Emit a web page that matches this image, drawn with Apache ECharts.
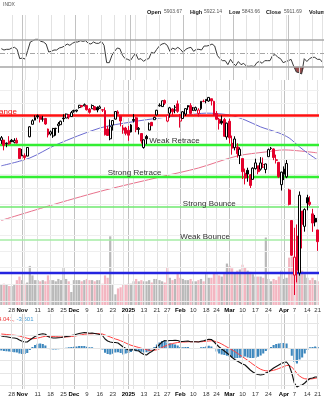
<!DOCTYPE html>
<html>
<head>
<meta charset="utf-8">
<title>INDX daily</title>
<script src="https://cdn.jsdelivr.net/npm/echarts@6/dist/echarts.min.js"></script>
<style>
  html, body { margin: 0; padding: 0; background: #ffffff; }
  #chart { width: 324px; height: 400px; }
</style>
</head>
<body>
<div id="chart"></div>
<script>
// Trading days shown on the chart
const dates = [
  'Oct 22','Oct 23','Oct 24','Oct 25','Oct 28','Oct 29','Oct 30','Oct 31',
  'Nov 1','Nov 4','Nov 5','Nov 6','Nov 7','Nov 8','Nov 11','Nov 12','Nov 13','Nov 14','Nov 15','Nov 18','Nov 19','Nov 20','Nov 21','Nov 22','Nov 25','Nov 26','Nov 27','Nov 29',
  'Dec 2','Dec 3','Dec 4','Dec 5','Dec 6','Dec 9','Dec 10','Dec 11','Dec 12','Dec 13','Dec 16','Dec 17','Dec 18','Dec 19','Dec 20','Dec 23','Dec 24','Dec 26','Dec 27','Dec 30','Dec 31',
  'Jan 2','Jan 3','Jan 6','Jan 7','Jan 8','Jan 10','Jan 13','Jan 14','Jan 15','Jan 16','Jan 17','Jan 21','Jan 22','Jan 23','Jan 24','Jan 27','Jan 28','Jan 29','Jan 30','Jan 31',
  'Feb 3','Feb 4','Feb 5','Feb 6','Feb 7','Feb 10','Feb 11','Feb 12','Feb 13','Feb 14','Feb 18','Feb 19','Feb 20','Feb 21','Feb 24','Feb 25','Feb 26','Feb 27','Feb 28',
  'Mar 3','Mar 4','Mar 5','Mar 6','Mar 7','Mar 10','Mar 11','Mar 12','Mar 13','Mar 14','Mar 17','Mar 18','Mar 19','Mar 20','Mar 21','Mar 24','Mar 25','Mar 26','Mar 27','Mar 28','Mar 31',
  'Apr 1','Apr 2','Apr 3','Apr 4','Apr 7','Apr 8','Apr 9','Apr 10','Apr 11','Apr 14','Apr 15','Apr 16','Apr 17','Apr 21'
];

// Daily OHLC
const opens = [
  5832,5834,5813,5826,5833,5819,5833,5775,
  5723,5725,5722,5858,5947,5977,6009,6003,5985,5989,5913,5877,5863,5918,5937,5944,5992,5992,6015,6003,
  6041,6043,6069,6084,6081,6083,6057,6060,6075,6069,6063,6053,6047,5913,5843,5941,5984,6024,6006,5920,5920,
  5904,5892,5982,5994,5910,5881,5782,5859,5905,5961,5980,6015,6081,6076,6121,5970,6027,6058,6050,6096,
  5970,5989,6021,6073,6083,6049,6050,6026,6060,6115,6121,6117,6134,6115,6026,5983,5970,5981,5856,
  5969,5811,5781,5786,5726,5705,5604,5624,5594,5563,5636,5655,5632,5646,5630,5718,5775,5772,5696,5679,5527,
  5597,5580,5492,5292,4953,5194,4966,5353,5255,5441,5411,5335,5306,5232
];
const highs = [
  5863,5834,5817,5862,5842,5847,5850,5776,
  5772,5741,5784,5933,5983,6012,6018,6009,6008,5993,5916,5902,5921,5921,5963,5973,6020,6025,6021,6044,
  6053,6053,6087,6085,6099,6088,6065,6092,6080,6078,6085,6057,6070,5935,5982,5978,6040,6049,6006,5941,5929,
  5935,5949,6021,6001,5927,5881,5838,5871,5960,5964,6002,6052,6100,6119,6128,6018,6074,6063,6087,6121,
  6022,6042,6063,6085,6101,6073,6076,6064,6116,6128,6129,6147,6134,6119,6043,5993,6010,5993,5959,
  5987,5866,5861,5812,5783,5705,5636,5642,5598,5645,5704,5655,5715,5712,5670,5775,5786,5776,5732,5679,5615,
  5651,5695,5500,5293,5246,5267,5482,5353,5371,5460,5450,5368,5328,5233
];
const lows = [
  5807,5762,5784,5800,5823,5811,5811,5703,
  5723,5696,5721,5854,5946,5976,5987,5960,5966,5943,5853,5866,5850,5866,5886,5944,5964,5992,5984,6003,
  6031,6034,6061,6070,6079,6047,6024,6060,6051,6034,6059,6036,5867,5866,5833,5902,5981,6007,5932,5879,5868,
  5829,5888,5960,5890,5874,5809,5774,5805,5905,5935,5979,6011,6076,6074,6088,5962,5995,6013,6027,6030,
  5923,5985,6007,6052,6020,6044,6042,6003,6050,6108,6100,6111,6084,6008,5977,5909,5944,5858,5837,
  5810,5732,5762,5711,5667,5565,5529,5547,5505,5563,5629,5598,5622,5640,5604,5718,5765,5694,5671,5572,5488,
  5558,5571,5390,5070,4835,4910,4950,5116,5221,5358,5386,5220,5255,5101
];
const closes = [
  5851,5797,5809,5808,5823,5832,5813,5705,
  5729,5712,5782,5929,5973,5995,6001,5984,5985,5949,5870,5893,5917,5917,5949,5969,5987,6021,5999,6032,
  6047,6050,6086,6075,6090,6053,6034,6084,6051,6051,6074,6050,5872,5867,5930,5974,6040,6037,5971,5907,5882,
  5869,5942,5975,5909,5918,5827,5836,5843,5950,5937,5997,6049,6086,6119,6101,6012,6067,6039,6071,6041,
  5994,6038,6061,6084,6026,6066,6068,6051,6115,6114,6129,6144,6118,6013,5983,5955,5956,5861,5955,
  5850,5778,5842,5739,5770,5615,5572,5599,5522,5639,5675,5615,5675,5663,5668,5767,5777,5712,5693,5581,5612,
  5633,5671,5397,5074,5062,4982,5457,5268,5363,5406,5397,5276,5283,5158
];

// Daily volume, billions of shares
const volumes = [
  3.4,3.6,3.4,3.2,3.2,3.4,4.2,4.8,4.2,3.6,
  3.8,6.6,5.0,4.2,4.2,4.0,4.2,4.0,5.0,4.2,
  4.2,4.0,4.4,4.2,6.4,4.4,4.0,2.2,4.2,4.2,
  4.2,4.0,4.2,4.4,4.2,4.2,4.0,4.2,4.2,3.6,
  5.0,4.6,11.6,3.4,1.8,2.8,3.0,3.4,3.4,3.6,
  3.6,4.0,4.4,4.0,4.2,4.0,4.0,4.2,3.8,4.4,
  4.4,4.2,4.0,3.8,6.4,4.6,4.2,4.4,5.4,4.6,
  4.4,4.2,4.2,4.4,4.0,4.0,4.2,4.4,4.0,5.2,
  4.6,4.6,5.4,5.2,5.0,4.8,5.4,7.0,6.6,6.2,
  5.4,5.8,6.0,6.8,6.4,5.8,5.6,5.2,4.8,4.8,
  4.8,4.6,11.4,4.4,4.0,4.4,4.2,4.8,5.8,4.4,
  4.6,8.0,8.2,8.2,7.4,7.0,5.8,5.2,4.6,4.2,
  4.6,4.2,4.0
];

// RSI(14)
const rsi = [
  57,55,56,56,58,59,56,42,43,41.5,
  54,67,69,71,71,68,67,64,52,53,
  55,55,58,59,61,64,62,65,67,67,
  69,68,69,65,64,67,65,65,68,62,
  36,36,47,53,58,57,47,42,41,39,
  45,50,41,42,38,41,42,51.5,50,56,
  61,64,65,62,53,58,56,59,56,51.5,
  56,58,59,53,56,56,55,61,61,62,
  64,61,47,42,39,39,33,41,35,31.5,
  37.7,33,35,31,30.5,31,30.2,36,38,35,
  39,39,39,47,48,44,42,36,37.7,39,
  41,30.5,22,21,19,42,37.7,42,44,44,
  41,41,36
];

// MACD(12,26,9)
const macdLine = [
  48,46,45,43,41,40,38,32,27,24,
  24,32,39,46,52,55,57,55,46,42,
  40,40,41,42,44,46,47,50,52,55,
  58,60,62,61,59,60,58,56,54,50,
  36,28,24,22,22,20,12,4,-2,-8,
  -8,-6,-10,-12,-20,-26,-28,-20,-14,-6,
  4,14,24,30,28,30,30,31,30,26,
  26,27,28,25,25,25,24,27,29,32,
  35,34,25,14,4,-4,-12,-20,-28,-38,
  -46,-52,-58,-64,-68,-78,-88,-96,-102,-106,
  -108,-106,-100,-96,-88,-80,-74,-68,-62,-58,
  -56,-70,-100,-140,-156,-150,-148,-140,-130,-122,
  -120,-116,-116
];
const macdSignal = [
  56,55,54,53,52,51,50,48,45,42,
  39,37,37,38,40,42,45,47,47,47,
  46,45,45,44,44,44,45,46,47,49,
  51,53,55,56,57,57,58,58,57,56,
  52,48,44,40,36,33,29,25,20,15,
  11,8,5,2,-1,-4,-7,-9,-10,-9,
  -7,-3,2,7,11,15,18,20,22,23,
  24,24,25,25,25,25,25,25,26,27,
  28,29,28,25,21,16,10,4,-2,-8,
  -14,-21,-28,-35,-42,-49,-57,-65,-72,-79,
  -85,-89,-91,-92,-91,-89,-86,-82,-78,-74,
  -70,-70,-76,-88,-102,-112,-119,-123,-124,-124,
  -123,-121,-119
];
const macdHist = [
  -10,-12,-13,-14,-16,-17,-18,-22,-24,-24,
  -20,-8,4,12,17,18,16,10,-1,-5,
  -6,-6,-5,-3,0,1,3,4,5,6,
  8,8,8,5,3,3,0,-1,-3,-6,
  -19,-24,-26,-23,-18,-17,-20,-26,-22,-20,
  -16,-12,-13,-12,-15,-18,-17,-14,-5,4,
  14,22,28,29,22,19,16,14,10,4,
  3,4,4,0,0,0,-1,3,4,6,
  9,6,-4,-14,-22,-26,-28,-31,-34,-38,
  -41,-40,-39,-38,-34,-38,-40,-40,-39,-35,
  -30,-22,-12,-5,4,12,16,18,20,20,
  18,0,-31,-56,-62,-46,-38,-22,-8,3,
  4,6,4
];

// Moving averages, sampled
const sma50Dates = ['Oct 22','Nov 6','Nov 20','Dec 16','Jan 3','Jan 23','Feb 6','Feb 18','Mar 3','Mar 11','Mar 19','Mar 28','Apr 3','Apr 9','Apr 14','Apr 21'];
const sma50Values = [5655,5709,5800,5920,5963,5995,6014,6028,6014,5978,5928,5885,5849,5786,5744,5695];
const sma200Dates = ['Oct 22','Nov 20','Dec 18','Jan 23','Feb 12','Mar 6','Mar 21','Apr 1','Apr 21'];
const sma200Values = [5293,5400,5491,5582,5640,5723,5751,5765,5744];

// Support / resistance levels
const levelNames = ['Range','Weak Retrace','Strong Retrace','Strong Bounce','Weak Bounce',''];
const levelValues = [6014,5804,5583,5379,5168,4965];
const levelLabelDates = ['Oct 30','Jan 15','Dec 19','Feb 4','Feb 3',''];

// Time axis ticks
const tickDates = ['Oct 28','Nov 1','Nov 11','Nov 18','Nov 25','Dec 2','Dec 9','Dec 16','Dec 23','Jan 2','Jan 13','Jan 21','Jan 27','Feb 3','Feb 10','Feb 18','Feb 24','Mar 3','Mar 10','Mar 17','Mar 24','Apr 1','Apr 7','Apr 14','Apr 21'];
const tickLabels = ['28','Nov','11','18','25','Dec','9','16','23','2025','13','21','27','Feb','10','18','24','Mar','10','17','24','Apr','7','14','21'];
const monthStarts = ['Nov 1','Dec 2','Jan 2','Feb 3','Mar 3','Apr 1'];
const weekStarts = ['Oct 28','Nov 4','Nov 11','Nov 18','Nov 25','Dec 2','Dec 9','Dec 16','Dec 23','Dec 30','Jan 6','Jan 13','Jan 21','Jan 27','Feb 3','Feb 10','Feb 18','Feb 24','Mar 3','Mar 10','Mar 17','Mar 24','Mar 31','Apr 7','Apr 14','Apr 21'];

// Horizontal guides per panel
const priceGuides = [4800,4900,5000,5100,5200,5300,5400,5500,5600,5700,5800,5900,6000,6100,6200];
const macdGuides = [-150,-100,-50,0,50,100];
const rsiBands = [30,70];
const rsiMid = 50;

// Header values
const headerItems = [['Open','5903.67'],['High','5922.14'],['Low','5843.66'],['Close','5911.69']];
const macdReadout = ['4.041,', '-3.501'];

// ---------------------------------------------------------------
const FONT = '"Liberation Sans", Arial, sans-serif';
const chart = echarts.init(document.getElementById('chart'), null, { renderer: 'canvas' });

const UP = '#000000', DOWN = '#e4002b';
const candleData = dates.map((d, i) => {
  const prev = i ? closes[i - 1] : opens[i];
  const col = closes[i] >= prev ? UP : DOWN;
  const fill = closes[i] < opens[i] ? col : '#ffffff';
  return {
    value: [opens[i], closes[i], lows[i], highs[i]],
    itemStyle: { color: fill, color0: fill, borderColor: col, borderColor0: col, borderWidth: 1 }
  };
});
const volumeData = volumes.map((v, i) => {
  const prev = i ? closes[i - 1] : opens[i];
  return { value: v, itemStyle: { color: closes[i] >= prev ? '#b9b9b9' : '#f3b6c1' } };
});
const sparse = (ds, vs) => dates.map(d => { const k = ds.indexOf(d); return k >= 0 ? vs[k] : null; });
const rsiFloor = rsi.map(v => Math.min(v, 30));
const rsiDip = rsi.map(v => 30 - Math.min(v, 30));

const levelColors = ['#ff1010', '#33ee33', '#33ee33', '#6fe86f', '#a6eda6', '#2424e0'];
const levelWidths = [2.5, 2.3, 2.3, 1.6, 1.5, 2.3];

const vLines = () => [
  ...weekStarts.map(d => ({ xAxis: dates.indexOf(d), lineStyle: { color: '#e2e2e2', width: 1, type: 'solid' } })),
  ...monthStarts.map(d => ({ xAxis: dates.indexOf(d), lineStyle: { color: '#c2c2c2', width: 1, type: 'solid' } }))
];
const guideSeries = (xi, yi, extra) => ({
  type: 'line', xAxisIndex: xi, yAxisIndex: yi, data: [], z: 0, silent: true,
  markLine: {
    silent: true, animation: false, symbol: ['none', 'none'], label: { show: false },
    emphasis: { disabled: true },
    data: [...vLines(), ...extra]
  }
});

const xLayout = { left: -2.8, width: 329.3 };
const xAxisFor = (gi, showLabels) => ({
  type: 'category', gridIndex: gi, data: dates, boundaryGap: true,
  axisLine: { show: false }, axisTick: { show: false }, splitLine: { show: false },
  axisPointer: { show: false },
  axisLabel: showLabels ? {
    show: true,
    interval: (i, v) => tickDates.indexOf(v) >= 0,
    margin: 2.5, fontSize: 6, fontFamily: FONT, color: '#333',
    formatter: (v) => {
      const k = tickDates.indexOf(v);
      if (k < 0) return '';
      return monthStarts.indexOf(v) >= 0 ? '{m|' + tickLabels[k] + '}' : tickLabels[k];
    },
    rich: { m: { fontWeight: 'bold', color: '#000', fontSize: 6, fontFamily: FONT } }
  } : { show: false }
});

const headerGraphics = [];
const headerX = [[147, 164], [190, 204], [229, 242], [266, 284]];
headerItems.forEach((it, k) => {
  headerGraphics.push({ type: 'text', x: headerX[k][0], y: 12, silent: true,
    style: { text: it[0], font: 'bold 5.5px ' + FONT, fill: '#111', align: 'left', verticalAlign: 'middle' } });
  headerGraphics.push({ type: 'text', x: headerX[k][1], y: 12, silent: true,
    style: { text: it[1], font: '5px ' + FONT, fill: '#555', align: 'left', verticalAlign: 'middle' } });
});
headerGraphics.push({ type: 'text', x: 309, y: 12, silent: true,
  style: { text: 'Volume', font: 'bold 5.5px ' + FONT, fill: '#111', align: 'left', verticalAlign: 'middle' } });

const option = {
  animation: false,
  backgroundColor: '#ffffff',
  grid: [
    { ...xLayout, top: 15, height: 65 },
    { ...xLayout, top: 80, height: 225 },
    { ...xLayout, top: 314, height: 75 }
  ],
  xAxis: [xAxisFor(0, false), xAxisFor(1, true), xAxisFor(2, true)],
  yAxis: [
    { type: 'value', gridIndex: 0, min: 10, max: 107.5, show: false },
    { type: 'log', logBase: 10, gridIndex: 1, min: 4777, max: 6275, show: false },
    { type: 'value', gridIndex: 1, min: 0, max: 38, show: false },
    { type: 'value', gridIndex: 2, min: -164, max: 136, show: false }
  ],
  graphic: [
    { type: 'text', x: 3, y: 5, silent: true,
      style: { text: 'INDX', font: '5px ' + FONT, fill: '#555', align: 'left', verticalAlign: 'middle' } },
    ...headerGraphics,
    { type: 'text', x: -2, y: 319.5, silent: true,
      style: { text: macdReadout[0], font: '6px ' + FONT, fill: '#ee3333', align: 'left', verticalAlign: 'middle' } },
    { type: 'text', x: 16.5, y: 319.5, silent: true,
      style: { text: macdReadout[1], font: '6px ' + FONT, fill: '#3f9ad6', align: 'left', verticalAlign: 'middle' } }
  ],
  series: [
    // RSI panel
    guideSeries(0, 0, [
      ...rsiBands.map(v => ({ yAxis: v, lineStyle: { color: '#a6a6a6', width: 1.5, type: 'solid' } })),
      { yAxis: rsiMid, lineStyle: { color: '#a6a6a6', width: 1, type: [5, 2, 1, 2] } }
    ]),
    { type: 'line', xAxisIndex: 0, yAxisIndex: 0, data: rsiFloor, stack: 'oversold', showSymbol: false, silent: true,
      lineStyle: { width: 0, opacity: 0 }, z: 1 },
    { type: 'line', xAxisIndex: 0, yAxisIndex: 0, data: rsiDip, stack: 'oversold', showSymbol: false, silent: true,
      lineStyle: { width: 0, opacity: 0 }, areaStyle: { color: '#9a4f4f', opacity: 1 }, z: 1 },
    { type: 'line', xAxisIndex: 0, yAxisIndex: 0, data: rsi, showSymbol: false, silent: true,
      lineStyle: { color: '#3a3a3a', width: 1 }, z: 3 },

    // Price panel
    guideSeries(1, 1, priceGuides.map(v => ({ yAxis: v, lineStyle: { color: '#efefef', width: 1, type: 'solid' } }))),
    { type: 'bar', xAxisIndex: 1, yAxisIndex: 2, data: volumeData, barWidth: '86%', silent: true, z: 1 },
    { type: 'line', xAxisIndex: 1, yAxisIndex: 1, data: [], z: 2, silent: true,
      markLine: {
        silent: true, animation: false, symbol: ['none', 'none'], label: { show: false },
        data: levelValues.map((v, k) => ({ yAxis: v, lineStyle: { color: levelColors[k], width: levelWidths[k], type: 'solid' } }))
      },
      markPoint: {
        silent: true, animation: false, symbol: 'circle', symbolSize: 0,
        data: levelNames.map((n, k) => ({ n, k })).filter(o => o.n).map(({ n, k }) => ({
          coord: [dates.indexOf(levelLabelDates[k]), levelValues[k]],
          label: {
            show: true, formatter: n, position: k === 0 ? 'left' : 'right', distance: 0,
            offset: [0, -3.6], fontSize: 8, fontFamily: FONT,
            color: k === 0 ? '#ee1111' : '#333333'
          }
        }))
      }
    },
    { type: 'line', xAxisIndex: 1, yAxisIndex: 1, data: sparse(sma200Dates, sma200Values), connectNulls: true,
      showSymbol: false, smooth: 0.3, silent: true, lineStyle: { color: '#e8728c', width: 1 }, z: 3 },
    { type: 'line', xAxisIndex: 1, yAxisIndex: 1, data: sparse(sma50Dates, sma50Values), connectNulls: true,
      showSymbol: false, smooth: 0.3, silent: true, lineStyle: { color: '#6b6bd0', width: 1 }, z: 3 },
    { type: 'candlestick', xAxisIndex: 1, yAxisIndex: 1, data: candleData, barWidth: 2.4, silent: true, z: 5 },

    // MACD panel
    guideSeries(2, 3, macdGuides.map(v => ({ yAxis: v, lineStyle: { color: '#e6e6e6', width: 1, type: 'solid' } }))),
    { type: 'bar', xAxisIndex: 2, yAxisIndex: 3, data: macdHist, barWidth: '80%', silent: true,
      itemStyle: { color: '#3d87bd' }, z: 1 },
    { type: 'line', xAxisIndex: 2, yAxisIndex: 3, data: macdSignal, showSymbol: false, silent: true,
      lineStyle: { color: '#ff4040', width: 1 }, z: 2 },
    { type: 'line', xAxisIndex: 2, yAxisIndex: 3, data: macdLine, showSymbol: false, silent: true,
      lineStyle: { color: '#111111', width: 1.1 }, z: 3 }
  ]
};

chart.setOption(option);
</script>
</body>
</html>
